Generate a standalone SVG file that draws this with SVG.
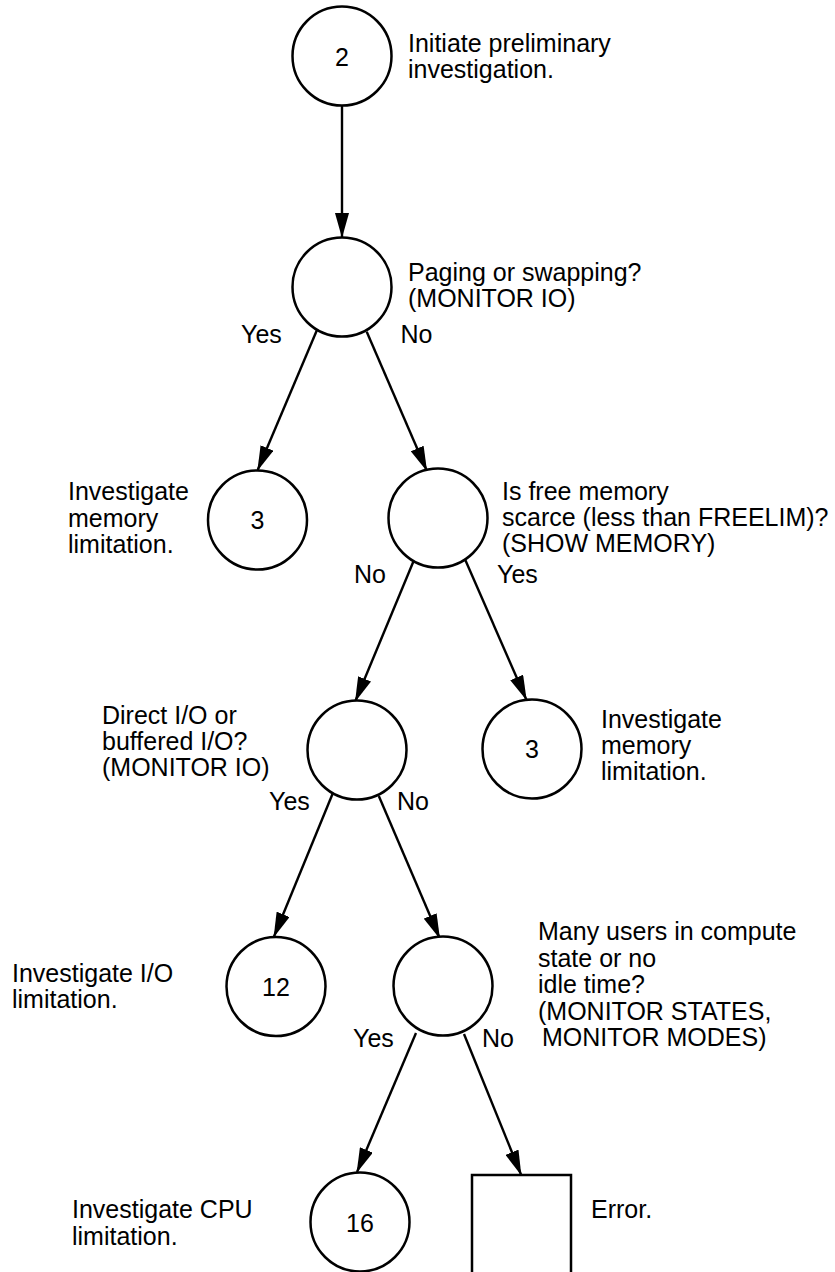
<svg xmlns="http://www.w3.org/2000/svg" width="835" height="1272" viewBox="0 0 835 1272">
<style>
  .n { fill: #fff; stroke: #000; stroke-width: 2.5; }
  .c { stroke: #000; stroke-width: 2.4; fill: none; }
  text { font-family: "Liberation Sans", Arial, sans-serif; font-size: 25px; fill: #000; }
  .num { text-anchor: middle; dominant-baseline: central; }
</style>
<defs>
  <marker id="ah" markerUnits="userSpaceOnUse" markerWidth="25" markerHeight="14" viewBox="0 0 25 14" refX="24" refY="7" orient="auto">
    <path d="M0,0 L25,7 L0,14 Z" fill="#000"/>
  </marker>
</defs>
<rect width="835" height="1272" fill="#fff"/>
<g id="connectors">
  <line class="c" x1="342" y1="106" x2="342" y2="237" marker-end="url(#ah)"/>
  <line class="c" x1="317.3" y1="329.3" x2="257.7" y2="470" marker-end="url(#ah)"/>
  <line class="c" x1="366.7" y1="331.7" x2="426.7" y2="470.5" marker-end="url(#ah)"/>
  <line class="c" x1="413.3" y1="561.7" x2="355.4" y2="701" marker-end="url(#ah)"/>
  <line class="c" x1="465" y1="559.3" x2="526.3" y2="699.5" marker-end="url(#ah)"/>
  <line class="c" x1="332.5" y1="794" x2="274" y2="936.5" marker-end="url(#ah)"/>
  <line class="c" x1="378.8" y1="796" x2="439.6" y2="938" marker-end="url(#ah)"/>
  <line class="c" x1="416" y1="1033" x2="357" y2="1172" marker-end="url(#ah)"/>
  <line class="c" x1="464" y1="1034" x2="521" y2="1174.5" marker-end="url(#ah)"/>
</g>
<g id="n2">
  <circle class="n" cx="342" cy="56" r="49.5"/>
  <text class="num" x="342" y="57">2</text>
  <text x="408" y="51.5">Initiate preliminary</text>
  <text x="408" y="78">investigation.</text>
</g>
<g id="d-paging">
  <circle class="n" cx="342" cy="287" r="49.5"/>
  <text x="408" y="281">Paging or swapping?</text>
  <text x="408" y="307">(MONITOR IO)</text>
  <text x="241" y="342.5">Yes</text>
  <text x="400.5" y="342.5">No</text>
</g>
<g id="n3a">
  <circle class="n" cx="257.5" cy="520" r="49.5"/>
  <text class="num" x="257.5" y="520">3</text>
  <text x="68" y="500">Investigate</text>
  <text x="68" y="526.5">memory</text>
  <text x="68" y="553">limitation.</text>
</g>
<g id="d-freemem">
  <circle class="n" cx="438" cy="518" r="49.5"/>
  <text x="502" y="500">Is free memory</text>
  <text x="502" y="526">scarce (less than FREELIM)?</text>
  <text x="502" y="552">(SHOW MEMORY)</text>
  <text x="354" y="582.7">No</text>
  <text x="497" y="582.7">Yes</text>
</g>
<g id="d-direct">
  <circle class="n" cx="357" cy="750" r="49.5"/>
  <text x="102" y="724">Direct I/O or</text>
  <text x="102" y="750">buffered I/O?</text>
  <text x="102" y="776">(MONITOR IO)</text>
  <text x="269" y="810">Yes</text>
  <text x="397" y="810">No</text>
</g>
<g id="n3b">
  <circle class="n" cx="532" cy="749" r="49.5"/>
  <text class="num" x="532" y="749">3</text>
  <text x="601" y="728">Investigate</text>
  <text x="601" y="754">memory</text>
  <text x="601" y="780">limitation.</text>
</g>
<g id="n12">
  <circle class="n" cx="276" cy="986.5" r="49.5"/>
  <text class="num" x="276" y="987">12</text>
  <text x="12" y="982">Investigate I/O</text>
  <text x="12" y="1008">limitation.</text>
</g>
<g id="d-compute">
  <circle class="n" cx="443" cy="986" r="49.5"/>
  <text x="538" y="940">Many users in compute</text>
  <text x="538" y="966.5">state or no</text>
  <text x="538" y="993">idle time?</text>
  <text x="538" y="1019.5">(MONITOR STATES,</text>
  <text x="542" y="1046">MONITOR MODES)</text>
  <text x="353" y="1046.5">Yes</text>
  <text x="482" y="1046.5">No</text>
</g>
<g id="n16">
  <circle class="n" cx="360" cy="1222" r="49.5"/>
  <text class="num" x="360" y="1223">16</text>
  <text x="72" y="1218">Investigate CPU</text>
  <text x="72" y="1245">limitation.</text>
</g>
<g id="error">
  <rect class="n" x="472" y="1175" width="99" height="120"/>
  <text x="591" y="1218">Error.</text>
</g>
</svg>
